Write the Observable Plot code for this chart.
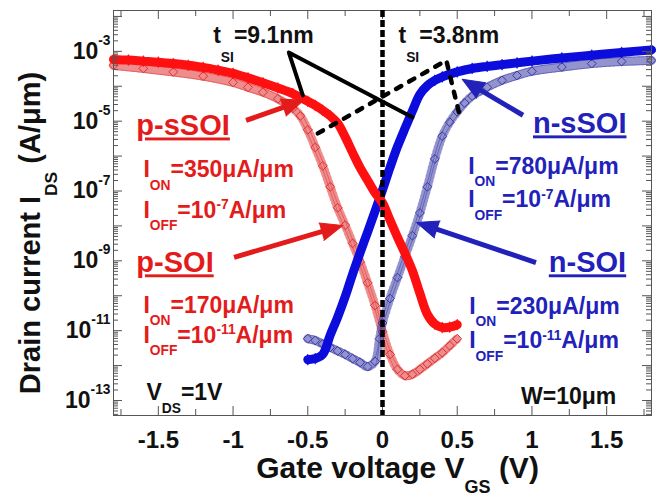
<!DOCTYPE html>
<html><head><meta charset="utf-8">
<script src="https://cdn.jsdelivr.net/npm/d3@7"></script>
<script src="https://cdn.jsdelivr.net/npm/@observablehq/plot@0.6"></script>
<style>html,body{margin:0;padding:0;background:#fff;}</style>
</head><body><div id="chart"></div>
<script>
// ---------- data (gate voltage in V, log10 of drain current in A/µm) ----------
const vgs_pSSOI = [-1.8,-1.7,-1.6,-1.5,-1.4,-1.3,-1.2,-1.1,-1.0,-0.9,-0.8,-0.7,-0.6,-0.55,-0.5,-0.45,-0.4,-0.35,-0.3,-0.25,-0.2,-0.15,-0.1,-0.05,0,0.05,0.1,0.15,0.2,0.25,0.3,0.35,0.4,0.45,0.5];
const logI_pSSOI = [-3.23,-3.25,-3.28,-3.31,-3.35,-3.40,-3.46,-3.54,-3.63,-3.76,-3.90,-4.05,-4.21,-4.32,-4.43,-4.55,-4.69,-4.85,-5.06,-5.45,-5.90,-6.33,-6.69,-7.05,-7.34,-7.83,-8.32,-8.78,-9.28,-9.93,-10.53,-10.81,-10.91,-10.90,-10.83];

const vgs_pSOI = [-1.8,-1.6,-1.4,-1.2,-1.0,-0.9,-0.8,-0.7,-0.6,-0.55,-0.5,-0.45,-0.4,-0.35,-0.3,-0.25,-0.2,-0.15,-0.1,-0.05,0,0.05,0.1,0.15,0.2,0.25,0.3,0.35,0.4,0.45,0.5];
const logI_pSOI = [-3.40,-3.49,-3.59,-3.71,-3.89,-4.03,-4.17,-4.36,-4.63,-4.85,-5.25,-5.75,-6.28,-6.88,-7.48,-7.98,-8.50,-9.03,-9.63,-10.28,-11.03,-11.68,-12.11,-12.29,-12.25,-12.11,-11.95,-11.79,-11.63,-11.43,-11.23];

const vgs_nSSOI = [-0.5,-0.45,-0.4,-0.35,-0.3,-0.25,-0.2,-0.15,-0.1,-0.05,0,0.05,0.1,0.15,0.2,0.25,0.3,0.35,0.4,0.5,0.6,0.7,0.8,0.9,1.0,1.2,1.4,1.6,1.8];
const logI_nSSOI = [-11.83,-11.80,-11.68,-11.13,-10.61,-10.03,-9.38,-8.77,-8.18,-7.58,-6.97,-6.33,-5.73,-5.21,-4.71,-4.23,-3.98,-3.83,-3.73,-3.59,-3.49,-3.43,-3.38,-3.33,-3.28,-3.19,-3.11,-3.03,-2.96];

const vgs_nSOI = [-0.5,-0.45,-0.4,-0.35,-0.3,-0.25,-0.2,-0.15,-0.1,-0.05,-0.02,0,0.05,0.1,0.15,0.2,0.25,0.3,0.35,0.4,0.45,0.5,0.55,0.6,0.7,0.8,0.9,1.0,1.2,1.4,1.6,1.8];
const logI_nSOI = [-11.23,-11.28,-11.38,-11.48,-11.58,-11.68,-11.80,-11.91,-12.03,-11.88,-11.23,-10.78,-10.08,-9.48,-8.88,-8.28,-7.63,-6.88,-6.08,-5.43,-5.03,-4.73,-4.48,-4.28,-4.03,-3.83,-3.69,-3.57,-3.45,-3.35,-3.29,-3.26];

// axes
const xTickValues = [-1.5,-1,-0.5,0,0.5,1,1.5];
const xTickLabels = ["-1.5","-1","-0.5","0","0.5","1","1.5"];
const yTickExponents = [-3,-5,-7,-9,-11,-13];
const yTickLabels = ["10^[0.6]{-3}","10^[0.6]{-5}","10^[0.6]{-7}","10^[0.6]{-9}","10^[0.6]{-11}","10^[0.6]{-13}"];
const xTitle = "Gate voltage V_[0.5]{GS} (V)";
const yTitle = "Drain current I_[0.6]{DS} (A/μm)";

// annotations (data coordinates: V, log10 A/µm)
const solidGuideV = [-0.533, -0.627, 0.2];
const solidGuideLogI = [-4.26, -3.03, -4.89];
const dashGuideV = [-0.433, 0.427, 0.513];
const dashGuideLogI = [-5.35, -3.26, -4.78];

const arrowDevice = ["p","p","n","n"];
const arrowFromV = [-0.913, -0.993, 0.94, 1.027];
const arrowFromLogI = [-4.98, -8.90, -4.83, -9.05];
const arrowToV = [-0.527, -0.267, 0.533, 0.227];
const arrowToLogI = [-4.40, -7.99, -3.80, -7.90];

const deviceNames = ["p-sSOI", "p-SOI", "n-sSOI", "n-SOI"];
const deviceSide = ["p","p","n","n"];
const deviceV = [-1.647, -1.647, 1.007, 1.113];
const deviceLogI = [-5.41, -9.33, -5.35, -9.33];

const specText = ["I_{ON}=350μA/μm","I_{OFF}=10^[0.38]{-7}A/μm","I_{ON}=170μA/μm","I_{OFF}=10^[0.38]{-11}A/μm",
                  "I_{ON}=780μA/μm","I_{OFF}=10^[0.38]{-7}A/μm","I_{ON}=230μA/μm","I_{OFF}=10^[0.38]{-11}A/μm"];
const specSide = ["p","p","p","p","n","n","n","n"];
const specV = [-1.60,-1.60,-1.60,-1.60,0.573,0.573,0.58,0.58];
const specLogI = [-6.61,-7.76,-10.48,-11.34,-6.50,-7.47,-10.51,-11.51];

const noteText = ["t_[0.8]{SI}=9.1nm","t_[0.8]{SI}=3.8nm","V_{DS}=1V","W=10μm"];
const noteV = [-1.133, 0.107, -1.58, 0.927];
const noteLogI = [-2.77, -2.77, -13.0, -13.09];

// ---------- layout / style ----------
const W = 656, H = 498, mL = 113, mR = 5, mT = 10, mB = 83;
const innerW = W - mL - mR, innerH = H - mT - mB;
const xDomain = [-1.8, 1.8];
const yDomain = [10 ** -13.43, 10 ** -1.83];
const FONT = "'Liberation Sans', Arial, Helvetica, sans-serif";
const RED = "#ff1010", BLUE = "#0c0cdc", RED_T = "#e41b1b", BLUE_T = "#2222bb";
const RED_O = "#e03030", BLUE_O = "#3a3aa6";
const sideColor = s => s === "p" ? RED_T : BLUE_T;

const rows = (vs, ls) => vs.map((v, i) => ({v, I: 10 ** ls[i]}));
const pSSOI = rows(vgs_pSSOI, logI_pSSOI);
const pSOI = rows(vgs_pSOI, logI_pSOI);
const nSSOI = rows(vgs_nSSOI, logI_nSSOI);
const nSOI = rows(vgs_nSOI, logI_nSOI);

const xMinor = d3.range(-1.75, 1.76, 0.25).filter(v => Math.abs(v * 2 - Math.round(v * 2)) > 1e-6);
const yMajor = d3.range(-13, -1).map(e => 10 ** e);
const yMinor = [];
for (let e = -14; e <= -2; e++) for (let k = 2; k <= 9; k++) {
  const v = k * 10 ** e; if (v > yDomain[0] && v < yDomain[1]) yMinor.push(v);
}

// standalone scales for arrowhead orientation
const sx = Plot.scale({x: {domain: xDomain, range: [mL, W - mR]}});
const sy = Plot.scale({y: {type: "log", domain: yDomain, range: [H - mB, mT]}});
const HEAD = 22;
const arrows = arrowDevice.map((d, i) => {
  const x1 = sx.apply(arrowFromV[i]), y1 = sy.apply(10 ** arrowFromLogI[i]);
  const x2 = sx.apply(arrowToV[i]), y2 = sy.apply(10 ** arrowToLogI[i]);
  const dx = x2 - x1, dy = y2 - y1, L = Math.hypot(dx, dy);
  const bx = x2 - dx / L * HEAD * 0.75, by = y2 - dy / L * HEAD * 0.75;
  return {side: d, v1: arrowFromV[i], I1: 10 ** arrowFromLogI[i], v2: sx.invert(bx), I2: sy.invert(by),
          tv: arrowToV[i], tI: 10 ** arrowToLogI[i], ang: Math.atan2(dx, -dy) * 180 / Math.PI};
});

const solidGuide = rows(solidGuideV, solidGuideLogI);
const dashGuide = rows(dashGuideV, dashGuideLogI);
const devices = deviceNames.map((t, i) => ({t, side: deviceSide[i], v: deviceV[i], I: 10 ** deviceLogI[i]}));
const specs = specText.map((t, i) => ({t, side: specSide[i], v: specV[i], I: 10 ** specLogI[i]}));
const notes = noteText.map((t, i) => ({t, v: noteV[i], I: 10 ** noteLogI[i]}));

const openCurve = (data, color) => [
  Plot.line(data, {x: "v", y: "I", stroke: color, strokeWidth: 9, strokeDasharray: "1,3.2", curve: "catmull-rom", strokeOpacity: 0.55}),
  Plot.line(data, {x: "v", y: "I", stroke: color, strokeWidth: 1, curve: "catmull-rom", strokeOpacity: 0.5, dy: 4}),
  Plot.line(data, {x: "v", y: "I", stroke: color, strokeWidth: 1, curve: "catmull-rom", strokeOpacity: 0.5, dy: -4}),
  Plot.dot(data, {x: "v", y: "I", symbol: "diamond2", r: 4, stroke: color, strokeWidth: 1, fill: "none"})
];
const filledCurve = (data, color) => [
  Plot.line(data, {x: "v", y: "I", stroke: color, strokeWidth: 9, curve: "catmull-rom"}),
  Plot.dot(data, {x: "v", y: "I", symbol: "diamond", r: 3.4, fill: color, stroke: color, strokeWidth: 0.5})
];
const arrowMarks = side => {
  const c = sideColor(side), a = arrows.filter(d => d.side === side);
  return [
    Plot.link(a, {x1: "v1", y1: "I1", x2: "v2", y2: "I2", stroke: c, strokeWidth: 5}),
    Plot.vector(a, {x: "tv", y: "tI", rotate: "ang", length: HEAD, r: 9, shape: "spike", anchor: "end", fill: c, stroke: c, strokeWidth: 1})
  ];
};

const AX = "#555";
const chart = Plot.plot({
  width: W, height: H, marginLeft: mL, marginRight: mR, marginTop: mT, marginBottom: mB,
  x: {domain: xDomain, axis: null},
  y: {type: "log", domain: yDomain, axis: null},
  style: {fontFamily: FONT, background: "white", overflow: "visible"},
  marks: [
    ...openCurve(pSOI, RED_O),
    ...openCurve(nSOI, BLUE_O),
    ...filledCurve(nSSOI, BLUE),
    ...filledCurve(pSSOI, RED),
    Plot.frame({stroke: AX, strokeWidth: 1}),
    Plot.ruleX(xTickValues, {x: d => d, insetTop: innerH - 9, stroke: AX}),
    Plot.ruleX(xTickValues, {x: d => d, insetBottom: innerH - 9, stroke: AX}),
    Plot.ruleX(xMinor, {x: d => d, insetTop: innerH - 6, stroke: AX}),
    Plot.ruleX(xMinor, {x: d => d, insetBottom: innerH - 6, stroke: AX}),
    Plot.ruleY(yMajor, {y: d => d, insetRight: innerW - 9, stroke: AX}),
    Plot.ruleY(yMajor, {y: d => d, insetLeft: innerW - 9, stroke: AX}),
    Plot.ruleY(yMinor, {y: d => d, insetRight: innerW - 5, stroke: AX}),
    Plot.ruleY(yMinor, {y: d => d, insetLeft: innerW - 5, stroke: AX}),
    Plot.line(solidGuide, {x: "v", y: "I", stroke: "black", strokeWidth: 4, strokeLinejoin: "round"}),
    Plot.line(dashGuide, {x: "v", y: "I", stroke: "black", strokeWidth: 4.5, strokeDasharray: "6,9", strokeLinecap: "round"}),
    ...arrowMarks("p"),
    ...arrowMarks("n"),
    Plot.ruleX([0], {stroke: "black", strokeWidth: 4.5, strokeDasharray: "7,3"}),
    // tick labels
    Plot.text(xTickValues, {x: d => d, frameAnchor: "bottom", dy: 25, lineAnchor: "middle", textAnchor: "middle", text: (d, i) => xTickLabels[i], fontSize: 24, fontWeight: "bold", fill: "#111"}),
    Plot.text(yTickExponents, {y: d => 10 ** d, frameAnchor: "left", dx: -3, textAnchor: "end", lineAnchor: "middle", text: (d, i) => yTickLabels[i], fontSize: 23, fontWeight: "bold", fill: "#111"}),
    // titles
    Plot.text([xTitle], {frameAnchor: "bottom", dx: 15, dy: 62, lineAnchor: "bottom", textAnchor: "middle", text: d => d, fontSize: 30, fontWeight: "bold", fill: "#111"}),
    Plot.text([yTitle], {frameAnchor: "left", dx: -83, dy: 20, rotate: -90, textAnchor: "middle", lineAnchor: "middle", text: d => d, fontSize: 29, fontWeight: "bold", fill: "#111"}),
    // annotations
    Plot.text(devices, {x: "v", y: "I", text: "t", fill: d => sideColor(d.side), textAnchor: "start", lineAnchor: "bottom", fontSize: 29, fontWeight: "bold"}),
    Plot.text(specs, {x: "v", y: "I", text: "t", fill: d => sideColor(d.side), textAnchor: "start", lineAnchor: "bottom", fontSize: 23, fontWeight: "bold"}),
    Plot.text(notes, {x: "v", y: "I", text: "t", fill: "#111", textAnchor: "start", lineAnchor: "bottom", fontSize: 23, fontWeight: "bold"})
  ]
});
document.getElementById("chart").appendChild(chart);

// rich text: _{sub}, ^{sup}, optional [factor] for shift in em
function richText(svg) {
  d3.select(svg).selectAll("text").each(function () {
    const s = this.textContent;
    if (!/[_^](\[[\d.]+\])?\{/.test(s)) return;
    const fs = parseFloat(getComputedStyle(this).fontSize);
    const re = /([_^])(?:\[([\d.]+)\])?\{([^}]*)\}/g;
    const parts = []; let last = 0, m;
    while ((m = re.exec(s))) {
      if (m.index > last) parts.push({t: s.slice(last, m.index), k: 0});
      parts.push({t: m[3], k: m[1] === "_" ? 1 : -1, f: m[2] ? +m[2] : null});
      last = re.lastIndex;
    }
    if (last < s.length) parts.push({t: s.slice(last), k: 0});
    while (this.firstChild) this.removeChild(this.firstChild);
    let cur = 0;
    for (const p of parts) {
      const target = p.k === 0 ? 0 : p.k * (p.f ?? (p.k > 0 ? 0.55 : 0.4)) * fs;
      const ts = d3.select(this).append("tspan").text(p.t).attr("dy", (target - cur).toFixed(2));
      if (p.k) ts.attr("font-size", (fs * 0.6).toFixed(1));
      cur = target;
    }
  });
  d3.select(svg).selectAll("text").filter(function () { return deviceNames.includes(this.textContent); })
    .style("text-decoration", "underline").style("text-decoration-thickness", "3px");
}
richText(chart);
</script>
</body></html>
